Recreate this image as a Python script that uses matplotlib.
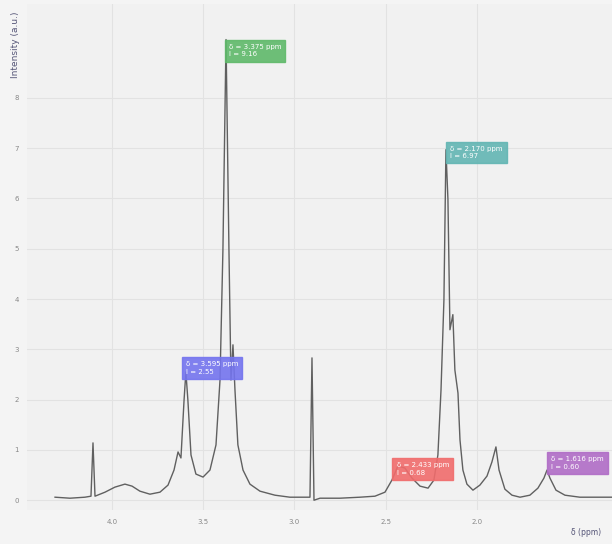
import numpy as np
import matplotlib
matplotlib.use("Agg")
import matplotlib.pyplot as plt

# 1H spectrum trace, chemical shift (ppm) vs intensity
shift = [4.312, 4.230, 4.148, 4.115, 4.104, 4.093, 4.038, 3.984, 3.929, 3.890,
         3.847, 3.792, 3.737, 3.693, 3.660, 3.638, 3.622, 3.605, 3.595, 3.584,
         3.567, 3.540, 3.501, 3.463, 3.430, 3.408, 3.392, 3.375, 3.359, 3.348,
         3.337, 3.326, 3.310, 3.282, 3.244, 3.189, 3.107, 3.025, 2.942, 2.915,
         2.904, 2.893, 2.860, 2.751, 2.641, 2.559, 2.504, 2.466, 2.433, 2.395,
         2.356, 2.312, 2.268, 2.236, 2.214, 2.197, 2.181, 2.170, 2.159, 2.148,
         2.132, 2.121, 2.104, 2.093, 2.077, 2.055, 2.022, 1.984, 1.945, 1.918,
         1.896, 1.879, 1.847, 1.808, 1.764, 1.710, 1.666, 1.633, 1.616, 1.600,
         1.567, 1.518, 1.436, 1.260]
intensity = [0.06, 0.04, 0.06, 0.08, 1.14, 0.08, 0.16, 0.26, 0.32, 0.28,
             0.18, 0.12, 0.16, 0.30, 0.60, 0.96, 0.84, 1.99, 2.55, 1.99,
             0.90, 0.52, 0.46, 0.60, 1.10, 2.39, 4.98, 9.16, 4.98, 2.39,
             3.09, 2.19, 1.10, 0.60, 0.32, 0.18, 0.10, 0.06, 0.06, 0.06,
             2.83, 0.00, 0.04, 0.04, 0.06, 0.08, 0.16, 0.40, 0.68, 0.64,
             0.44, 0.28, 0.24, 0.40, 0.90, 2.19, 3.98, 6.97, 5.98, 3.39,
             3.69, 2.59, 2.13, 1.20, 0.60, 0.32, 0.20, 0.30, 0.48, 0.76,
             1.06, 0.60, 0.22, 0.10, 0.06, 0.10, 0.24, 0.44, 0.60, 0.44,
             0.20, 0.10, 0.06, 0.06]

# picked peaks and their label colours
peak_shift = [3.375, 2.170, 3.595, 2.433, 1.616]
peak_color = ['#5fb96a', '#62b5b3', '#7474ee', '#f06c6c', '#b06cc6']
# label offsets in points (dx, dy)
peak_offset = [(2, -8), (3, -2), (0, 3), (-1, -2), (3, 5)]

x_ticks = [4.0, 3.5, 3.0, 2.5, 2.0]

fig = plt.figure(figsize=(6.12, 5.44), dpi=100, facecolor='#f4f4f4')
ax = fig.add_axes([0.044, 0.062, 0.956, 0.93])
ax.set_facecolor('#f1f1f1')

ax.plot(shift, intensity, color='#606060', lw=1.0, zorder=3)

sx = np.array(shift)[::-1]
sy = np.array(intensity)[::-1]
for p, c, off in zip(peak_shift, peak_color, peak_offset):
    h = np.interp(p, sx, sy)
    ax.annotate('δ = %.3f ppm\nI = %.2f' % (p, h), xy=(p, h),
                xytext=off, textcoords='offset points',
                ha='left', va='center', fontsize=5, color='white',
                linespacing=1.3, zorder=5,
                bbox=dict(boxstyle='square,pad=0.6', fc=c, ec=c, alpha=0.9))

ax.set_xlim(4.466, 1.26)
ax.set_ylim(-0.2, 9.86)
ax.set_xticks(x_ticks)
ax.set_yticks(range(0, 9))
ax.tick_params(length=0, labelsize=5, labelcolor='#888888', pad=6)
ax.grid(True, color='#e2e2e2', lw=0.8)
ax.set_axisbelow(True)
for s in ax.spines.values():
    s.set_visible(False)

fig.text(0.025, 0.978, 'Intensity (a.u.)', rotation=90, ha='center', va='top',
         fontsize=6.5, color='#555577')
fig.text(0.957, 0.012, 'δ (ppm)', ha='center', va='bottom',
         fontsize=5.5, color='#555577')

fig.savefig('out.png', dpi=100, facecolor=fig.get_facecolor())
